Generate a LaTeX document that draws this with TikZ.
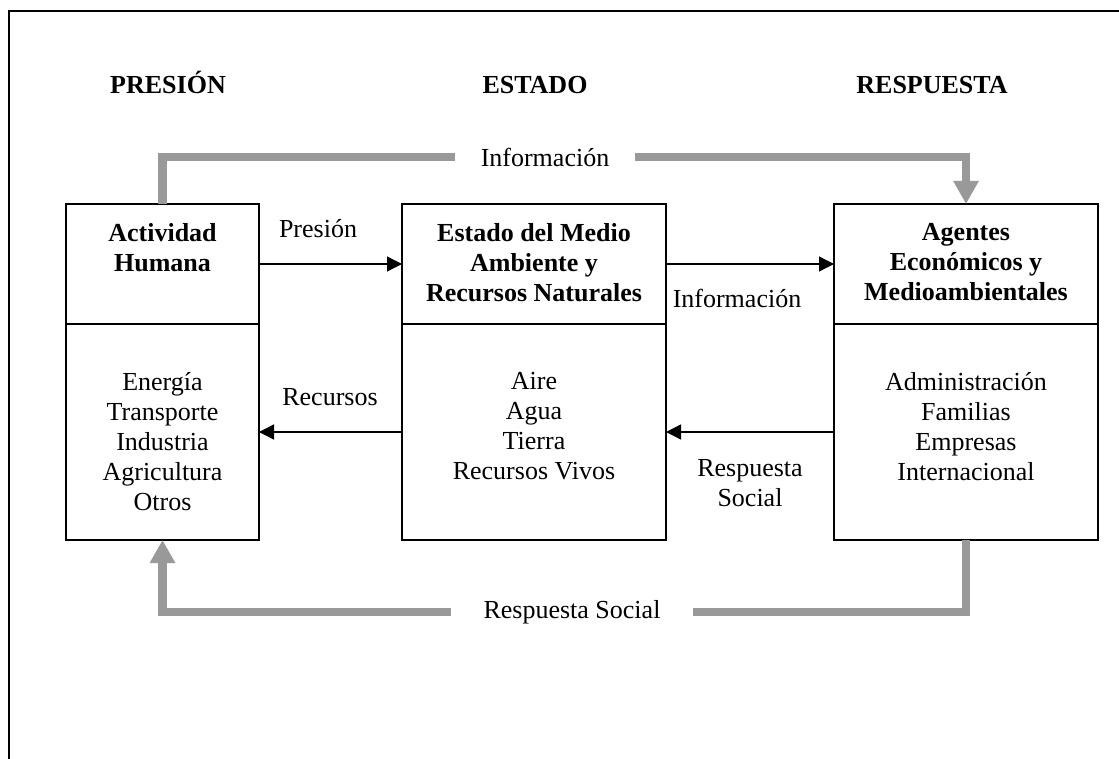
\documentclass[tikz,border=0pt]{standalone}
\usepackage{fontspec}
\setmainfont{Liberation Serif}
\usetikzlibrary{arrows.meta,positioning}
\colorlet{loopgray}{black!40}

\tikzset{
  txt/.style={font=\fontsize{26}{30}\selectfont, align=center, inner sep=0pt},
  boldtxt/.style={txt, font=\fontsize{26}{30}\selectfont\bfseries},
  part/.style={draw, line width=1.3pt, minimum width=#1, inner sep=0pt, outer sep=0pt},
  flow/.style={line width=1.3pt, -{Triangle[length=15pt,width=15pt]}},
  loopline/.style={loopgray, line width=8.5pt},
  looptip/.style={-{Triangle[length=23pt,width=24pt]}},
  looplabel/.style={txt, inner xsep=#1}
}

\begin{document}
\begin{tikzpicture}[x=1pt,y=-1pt]
  \useasboundingbox (0,0) rectangle (1119,759);
  \draw[line width=1.2pt] (9,759) -- (9,11) -- (1119,11);

  % titulos
  \node[boldtxt, anchor=base] (tpres) at (168,94) {PRESIÓN};
  \node[boldtxt, anchor=base] (test) at (535,94) {ESTADO};
  \node[boldtxt, anchor=base] (tresp) at (932,94) {RESPUESTA};

  % cajas
  \node[part=193pt, minimum height=120pt] (act) at (162.5,264) {};
  \node[part=193pt, minimum height=216pt, below=0pt of act] (actlow) {};
  \node[part=264pt, minimum height=120pt] (est) at (534,264) {};
  \node[part=264pt, minimum height=216pt, below=0pt of est] (estlow) {};
  \node[part=264pt, minimum height=120pt] (age) at (966,264) {};
  \node[part=264pt, minimum height=216pt, below=0pt of age] (agelow) {};

  \node[boldtxt, anchor=north] (actT) at ([yshift=-19pt]act.north) {Actividad\\Humana};
  \node[boldtxt, anchor=north] (estT) at ([yshift=-19pt]est.north) {Estado del Medio\\Ambiente y\\Recursos Naturales};
  \node[boldtxt, anchor=north] (ageT) at ([yshift=-19pt]age.north) {Agentes\\Económicos y\\Medioambientales};

  \node[txt, anchor=north] (actL) at ([yshift=-48pt]actlow.north) {Energía\\Transporte\\Industria\\Agricultura\\Otros};
  \node[txt, anchor=north] (estL) at ([yshift=-48pt]estlow.north) {Aire\\Agua\\Tierra\\Recursos Vivos};
  \node[txt, anchor=north] (ageL) at ([yshift=-48pt]agelow.north) {Administración\\Familias\\Empresas\\Internacional};

  % flechas negras
  \draw[flow] (act.east) -- (est.west);
  \draw[flow] (est.east) -- (age.west);
  \draw[flow] (estlow.west) -- (actlow.east);
  \draw[flow] (agelow.west) -- (estlow.east);
  \node[txt, anchor=base] (lpres) at (318,238) {Presión};
  \node[txt, anchor=base] (linfo) at (737,308) {Información};
  \node[txt, anchor=base] (lrec) at (330,405) {Recursos};
  \node[txt, anchor=north] (lresp) at (750,459) {Respuesta\\Social};

  % lazos grises
  \node[looplabel=26pt] (infoTop) at (545,157) {Información};
  \node[looplabel=32pt] (respBot) at (572,612) {Respuesta Social};
  \draw[loopline] (act.north) |- (infoTop.west);
  \draw[loopline, looptip] (infoTop.east) -| (age.north);
  \draw[loopline] (agelow.south) |- (respBot.east);
  \draw[loopline, looptip] (respBot.west) -| (actlow.south);
\end{tikzpicture}
\end{document}
